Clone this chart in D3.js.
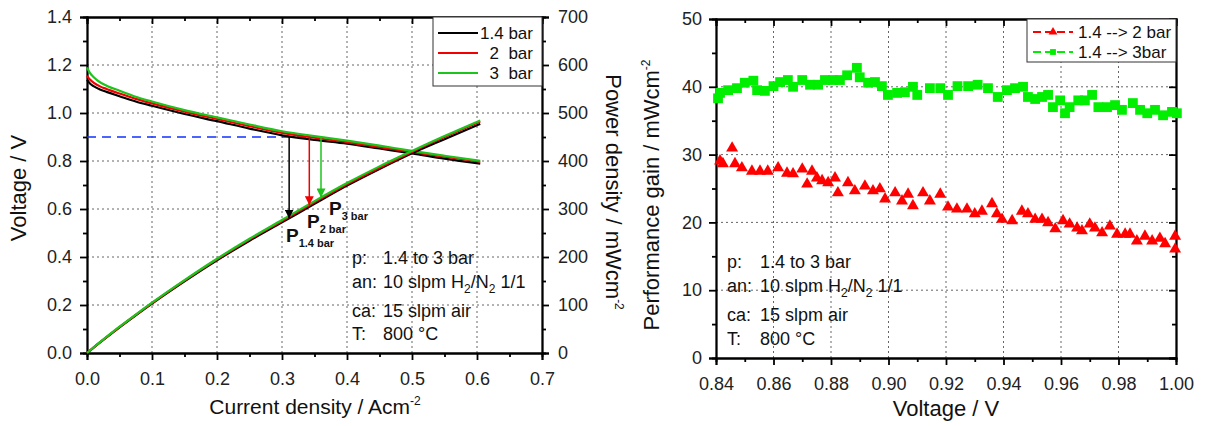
<!DOCTYPE html>
<html><head><meta charset="utf-8">
<script src="https://cdn.jsdelivr.net/npm/d3@7"></script>
<style>
body{margin:0;background:#fff;}
svg{font-family:"Liberation Sans",Arial,sans-serif;}
</style></head>
<body>
<svg id="c" width="1205" height="426"></svg>
<script>
// ---------- Left chart data ----------
const current = [0, 0.005, 0.01, 0.02, 0.03, 0.05, 0.075, 0.1, 0.15, 0.2, 0.25, 0.3, 0.35, 0.4, 0.45, 0.5, 0.55, 0.605];
const volt14 = [1.138, 1.122, 1.112, 1.098, 1.088, 1.070, 1.048, 1.030, 0.996, 0.966, 0.935, 0.907, 0.888, 0.872, 0.852, 0.832, 0.810, 0.789];
const volt2  = [1.155, 1.138, 1.127, 1.111, 1.100, 1.081, 1.059, 1.040, 1.006, 0.975, 0.945, 0.917, 0.897, 0.879, 0.858, 0.838, 0.818, 0.797];
const volt3  = [1.190, 1.165, 1.150, 1.128, 1.114, 1.093, 1.068, 1.048, 1.012, 0.982, 0.952, 0.924, 0.904, 0.885, 0.864, 0.842, 0.822, 0.801];
const power14 = [0, 5.6, 11.1, 22.0, 32.6, 53.5, 78.6, 103.0, 149.4, 193.2, 233.8, 272.1, 310.8, 348.8, 383.4, 416.0, 445.5, 477.3];
const power2  = [0, 5.7, 11.3, 22.2, 33.0, 54.1, 79.4, 104.0, 150.9, 195.0, 236.3, 275.1, 314.0, 351.6, 386.1, 419.0, 449.9, 482.2];
const power3  = [0, 5.8, 11.5, 22.6, 33.4, 54.7, 80.1, 104.8, 151.8, 196.4, 238.0, 277.2, 316.4, 354.0, 388.8, 421.0, 452.1, 484.6];
const seriesNames = ["1.4 bar", "2  bar", "3  bar"];
const refVoltage = 0.9;
const arrowCurrent = [0.311, 0.342, 0.36];
const arrowPower = [280, 308, 324];
const arrowSubs = ["1.4 bar", "2 bar", "3 bar"];
const leftXTicks = [0, 0.1, 0.2, 0.3, 0.4, 0.5, 0.6, 0.7];
const leftYTicks = [0, 0.2, 0.4, 0.6, 0.8, 1.0, 1.2, 1.4];
const powerTicks = [0, 100, 200, 300, 400, 500, 600, 700];

// ---------- Right chart data ----------
const gain2 = [[0.8414,29.2],[0.8424,28.8],[0.8456,31.1],[0.8466,28.8],[0.849,28.2],[0.8525,27.7],[0.8553,27.7],[0.858,27.7],[0.8616,28.2],[0.8647,27.4],[0.8668,27.3],[0.870,28],[0.8717,25.8],[0.8734,27.7],[0.8751,26.7],[0.8769,26.3],[0.879,26],[0.8814,26.7],[0.8824,24.5],[0.8859,26],[0.8883,24.8],[0.8918,25.5],[0.8946,24.8],[0.897,25.1],[0.8988,23.6],[0.9023,24.5],[0.9047,23.3],[0.9068,24.3],[0.9085,22.6],[0.912,24.5],[0.9144,23.3],[0.918,24.3],[0.9207,22.4],[0.9238,22.1],[0.9273,22.1],[0.930,21.4],[0.9325,21.8],[0.936,22.9],[0.9377,21.4],[0.9395,20.6],[0.943,20.4],[0.9464,21.8],[0.9485,21.4],[0.951,20.6],[0.9534,20.6],[0.9555,20.1],[0.958,19.2],[0.9607,20.4],[0.963,19.9],[0.9656,19.3],[0.9673,18.9],[0.970,19.9],[0.9718,19.3],[0.9743,18.6],[0.977,19.6],[0.9795,18.4],[0.9823,18.4],[0.984,18.4],[0.9864,17.4],[0.9892,18.1],[0.9917,17.4],[0.9944,17.8],[0.9962,17],[0.9997,18.1],[0.9997,16.2]];
const gain3 = [[0.8407,38.3],[0.8414,39.1],[0.8442,39.5],[0.8473,39.8],[0.850,40.6],[0.853,40.9],[0.8543,39.5],[0.857,39.4],[0.860,40.1],[0.8623,40.7],[0.865,41],[0.8668,40],[0.870,41],[0.8727,40.3],[0.8755,40.3],[0.8779,41],[0.8807,41],[0.8831,41],[0.8856,41.7],[0.889,42.8],[0.890,41.4],[0.8929,40.6],[0.8953,40.7],[0.8977,40.1],[0.8998,38.8],[0.903,39.1],[0.9057,39.2],[0.9085,40],[0.910,38.8],[0.9144,39.8],[0.918,39.8],[0.9207,38.8],[0.924,40.1],[0.9277,40.1],[0.931,40.3],[0.9346,39.8],[0.938,38.5],[0.9412,39.5],[0.944,39.8],[0.9468,40],[0.9485,38.5],[0.951,38.2],[0.9534,38.5],[0.9555,38.8],[0.9572,37],[0.9597,38],[0.9614,36.1],[0.963,37],[0.966,38],[0.9683,38],[0.9708,38.8],[0.973,37],[0.976,37],[0.9788,37.3],[0.9812,36.6],[0.985,37.6],[0.9875,36.6],[0.990,36.1],[0.9927,36.6],[0.9955,35.8],[0.9986,36.3],[1.0003,36.1]];
const gainNames = ["1.4 --> 2 bar", "1.4 --> 3bar"];
const rightXTicks = [0.84, 0.86, 0.88, 0.90, 0.92, 0.94, 0.96, 0.98, 1.00];
const rightYTicks = [0, 10, 20, 30, 40, 50];

const colors = ["#000000", "#f00000", "#1cc41c"];
const gainColors = ["#ff0000", "#00ee00"];

const svg = d3.select("#c");

// ---------- Left scales ----------
const xL = d3.scaleLinear([0, 0.7], [87, 542]);
const yL = d3.scaleLinear([0, 1.4], [353, 17]);
const yP = d3.scaleLinear([0, 700], [353, 17]);

// ---------- Right scales ----------
const xR = d3.scaleLinear([0.84, 1.0], [716, 1176]);
const yR = d3.scaleLinear([0, 50], [358, 19]);

const TICK_FS = 18, TITLE_FS = 22, TEXT_FS = 18;

function styleAxis(g, fs) {
  g.selectAll(".domain").attr("stroke", "#000").attr("stroke-width", 1.8);
  g.selectAll(".tick line").attr("stroke", "#000").attr("stroke-width", 1.8);
  g.selectAll(".tick text").attr("fill", "#222").attr("font-size", fs || 16);
  g.attr("font-family", null);
}
function minorVals(a, b, step) {
  const out = []; const n = Math.round((b - a) / step);
  for (let i = 0; i <= n; i++) out.push(+(a + i * step).toFixed(6));
  return out;
}
const dash = "2,3";

// ---------- Left gridlines ----------
const gL = svg.append("g");
gL.selectAll("line.hg").data(leftYTicks.slice(1, -1)).join("line")
  .attr("x1", xL(0)).attr("x2", xL(0.7)).attr("y1", d => yL(d)).attr("y2", d => yL(d))
  .attr("stroke", "#666").attr("stroke-width", 1).attr("stroke-dasharray", dash);
gL.selectAll("line.vg").data(leftXTicks.slice(1, -1)).join("line")
  .attr("y1", yL(0)).attr("y2", yL(1.4)).attr("x1", d => xL(d)).attr("x2", d => xL(d))
  .attr("stroke", "#666").attr("stroke-width", 1).attr("stroke-dasharray", dash);

// ---------- Left axes ----------
const lx = svg.append("g").attr("transform", `translate(0,${yL(0)})`)
  .call(d3.axisBottom(xL).tickValues(leftXTicks).tickFormat(d3.format(".1f")).tickSize(7).tickPadding(12));
styleAxis(lx, TICK_FS);
styleAxis(svg.append("g").attr("transform", `translate(0,${yL(0)})`)
  .call(d3.axisBottom(xL).tickValues(minorVals(0.05, 0.65, 0.1)).tickFormat("").tickSize(4)));
styleAxis(svg.append("g").attr("transform", `translate(0,${yL(1.4)})`)
  .call(d3.axisBottom(xL).tickValues(leftXTicks).tickFormat("").tickSize(7)));
styleAxis(svg.append("g").attr("transform", `translate(0,${yL(1.4)})`)
  .call(d3.axisBottom(xL).tickValues(minorVals(0.05, 0.65, 0.1)).tickFormat("").tickSize(4)));
const ly = svg.append("g").attr("transform", `translate(${xL(0)},0)`)
  .call(d3.axisLeft(yL).tickValues(leftYTicks).tickFormat(d3.format(".1f")).tickSize(7).tickPadding(8));
styleAxis(ly, TICK_FS);
styleAxis(svg.append("g").attr("transform", `translate(${xL(0)},0)`)
  .call(d3.axisLeft(yL).tickValues(minorVals(0.1, 1.3, 0.2)).tickFormat("").tickSize(4)));
const ry = svg.append("g").attr("transform", `translate(${xL(0.7)},0)`)
  .call(d3.axisRight(yP).tickValues(powerTicks).tickSize(7).tickPadding(9));
styleAxis(ry, TICK_FS);
styleAxis(svg.append("g").attr("transform", `translate(${xL(0.7)},0)`)
  .call(d3.axisRight(yP).tickValues(minorVals(50, 650, 100)).tickFormat("").tickSize(4)));

// ---------- Reference dashed line ----------
svg.append("line").attr("x1", xL(0)).attr("x2", xL(arrowCurrent[2]))
  .attr("y1", yL(refVoltage)).attr("y2", yL(refVoltage))
  .attr("stroke", "#1030ff").attr("stroke-width", 1.6).attr("stroke-dasharray", "9,6");

// ---------- Curves ----------
const vSeries = [volt14, volt2, volt3];
const pSeries = [power14, power2, power3];
const lineV = d3.line().x((d, i) => xL(current[i])).y(d => yL(d)).curve(d3.curveMonotoneX);
const lineP = d3.line().x((d, i) => xL(current[i])).y(d => yP(d)).curve(d3.curveMonotoneX);
vSeries.forEach((s, k) => {
  svg.append("path").attr("d", lineV(s)).attr("fill", "none").attr("stroke", colors[k]).attr("stroke-width", 2.2);
});
pSeries.forEach((s, k) => {
  svg.append("path").attr("d", lineP(s)).attr("fill", "none").attr("stroke", colors[k]).attr("stroke-width", 2.2);
});

// ---------- Arrows ----------
const defs = svg.append("defs");
colors.forEach((c, k) => {
  defs.append("marker").attr("id", "ah" + k).attr("viewBox", "0 0 10 10").attr("refX", 10).attr("refY", 5)
    .attr("markerWidth", 9).attr("markerHeight", 9).attr("markerUnits", "userSpaceOnUse").attr("orient", "auto")
    .append("path").attr("d", "M0,0 L10,5 L0,10 Z").attr("fill", c);
});
arrowCurrent.forEach((a, k) => {
  svg.append("line").attr("x1", xL(a)).attr("x2", xL(a))
    .attr("y1", yL(refVoltage)).attr("y2", yP(arrowPower[k]))
    .attr("stroke", colors[k]).attr("stroke-width", 1.5).attr("marker-end", `url(#ah${k})`);
});

// P labels
const pLab = [[286, 242], [307, 228], [329, 215]];
arrowSubs.forEach((s, k) => {
  const t = svg.append("text").attr("x", pLab[k][0]).attr("y", pLab[k][1])
    .attr("font-size", 19).attr("font-weight", "bold").attr("fill", "#111");
  t.append("tspan").text("P");
  t.append("tspan").attr("dy", 5).attr("font-size", 11).text(s);
});

// ---------- Left legend ----------
const lg = svg.append("g");
lg.append("rect").attr("x", 433).attr("y", 17).attr("width", 109).attr("height", 69)
  .attr("fill", "#fff").attr("stroke", "#333").attr("stroke-width", 1);
seriesNames.forEach((n, k) => {
  const yy = 33 + k * 20;
  lg.append("line").attr("x1", 438).attr("x2", 478).attr("y1", yy).attr("y2", yy)
    .attr("stroke", colors[k]).attr("stroke-width", 2);
  lg.append("text").attr("x", 533).attr("y", yy + 6).attr("text-anchor", "end")
    .attr("font-size", 17).attr("fill", "#111").style("white-space", "pre").text(n);
});

// ---------- Condition text blocks ----------
function condBlock(x0, x1, ys) {
  const g = svg.append("g").attr("font-size", TEXT_FS).attr("fill", "#111");
  const labs = ["p:", "an:", "ca:", "T:"];
  labs.forEach((l, i) => g.append("text").attr("x", x0).attr("y", ys[i]).text(l));
  g.append("text").attr("x", x1).attr("y", ys[0]).text("1.4 to 3 bar");
  const t = g.append("text").attr("x", x1).attr("y", ys[1]);
  t.append("tspan").text("10 slpm H");
  t.append("tspan").attr("font-size", 12).attr("dy", 5).text("2");
  t.append("tspan").attr("dy", -5).text("/N");
  t.append("tspan").attr("font-size", 12).attr("dy", 5).text("2");
  t.append("tspan").attr("dy", -5).text(" 1/1");
  g.append("text").attr("x", x1).attr("y", ys[2]).text("15 slpm air");
  g.append("text").attr("x", x1).attr("y", ys[3]).text("800 °C");
}
condBlock(352, 383, [264, 288, 317, 340]);

// ---------- Left titles ----------
svg.append("text").attr("transform", "translate(26,188) rotate(-90)").attr("text-anchor", "middle")
  .attr("font-size", TITLE_FS).attr("fill", "#111").text("Voltage / V");
const tx = svg.append("text").attr("x", 315).attr("y", 414).attr("text-anchor", "middle")
  .attr("font-size", TITLE_FS - 1).attr("fill", "#111");
tx.append("tspan").text("Current density / Acm");
tx.append("tspan").attr("dy", -9).attr("font-size", 12).text("-2");
const tp = svg.append("text").attr("transform", "translate(606,192) rotate(90)").attr("text-anchor", "middle")
  .attr("font-size", TITLE_FS).attr("fill", "#111");
tp.append("tspan").text("Power density / mWcm");
tp.append("tspan").attr("dy", -9).attr("font-size", 12).text("-2");

// ---------- Right gridlines ----------
const gR = svg.append("g");
gR.selectAll("line.hg").data(rightYTicks.slice(1, -1)).join("line")
  .attr("x1", xR(0.84)).attr("x2", xR(1.0)).attr("y1", d => yR(d)).attr("y2", d => yR(d))
  .attr("stroke", "#666").attr("stroke-width", 1).attr("stroke-dasharray", dash);
gR.selectAll("line.vg").data(rightXTicks.slice(1, -1)).join("line")
  .attr("y1", yR(0)).attr("y2", yR(50)).attr("x1", d => xR(d)).attr("x2", d => xR(d))
  .attr("stroke", "#666").attr("stroke-width", 1).attr("stroke-dasharray", dash);

// ---------- Right axes ----------
const rxMinor = minorVals(0.85, 0.99, 0.02);
const ryMinor = minorVals(5, 45, 10);
const bx = svg.append("g").attr("transform", `translate(0,${yR(0)})`)
  .call(d3.axisBottom(xR).tickValues(rightXTicks).tickFormat(d3.format(".2f")).tickSize(7).tickPadding(12));
styleAxis(bx, TICK_FS);
styleAxis(svg.append("g").attr("transform", `translate(0,${yR(0)})`)
  .call(d3.axisBottom(xR).tickValues(rxMinor).tickFormat("").tickSize(4)));
styleAxis(svg.append("g").attr("transform", `translate(0,${yR(50)})`)
  .call(d3.axisBottom(xR).tickValues(rightXTicks).tickFormat("").tickSize(7)));
styleAxis(svg.append("g").attr("transform", `translate(0,${yR(50)})`)
  .call(d3.axisBottom(xR).tickValues(rxMinor).tickFormat("").tickSize(4)));
const by = svg.append("g").attr("transform", `translate(${xR(0.84)},0)`)
  .call(d3.axisLeft(yR).tickValues(rightYTicks).tickSize(7).tickPadding(7));
styleAxis(by, TICK_FS);
styleAxis(svg.append("g").attr("transform", `translate(${xR(0.84)},0)`)
  .call(d3.axisLeft(yR).tickValues(ryMinor).tickFormat("").tickSize(4)));
styleAxis(svg.append("g").attr("transform", `translate(${xR(1.0)},0)`)
  .call(d3.axisLeft(yR).tickValues(rightYTicks).tickFormat("").tickSize(7)));
styleAxis(svg.append("g").attr("transform", `translate(${xR(1.0)},0)`)
  .call(d3.axisLeft(yR).tickValues(ryMinor).tickFormat("").tickSize(4)));

// ---------- Right markers ----------
const tri = d3.symbol().type(d3.symbolTriangle).size(62);
const sq = d3.symbol().type(d3.symbolSquare).size(96);
svg.append("g").selectAll("path").data(gain3).join("path")
  .attr("d", sq).attr("transform", d => `translate(${xR(d[0])},${yR(d[1])})`).attr("fill", gainColors[1]);
svg.append("g").selectAll("path").data(gain2).join("path")
  .attr("d", tri).attr("transform", d => `translate(${xR(d[0])},${yR(d[1]) + 1})`).attr("fill", gainColors[0]);

// ---------- Right legend ----------
const rl = svg.append("g");
rl.append("rect").attr("x", 1027).attr("y", 19).attr("width", 149).attr("height", 43)
  .attr("fill", "#fff").attr("stroke", "#333").attr("stroke-width", 1);
gainNames.forEach((n, k) => {
  const yy = 32 + k * 20;
  rl.append("line").attr("x1", 1033).attr("x2", 1073).attr("y1", yy).attr("y2", yy)
    .attr("stroke", gainColors[k]).attr("stroke-width", 2).attr("stroke-dasharray", "8,4");
  rl.append("path").attr("d", k === 0 ? d3.symbol().type(d3.symbolTriangle).size(34)() : d3.symbol().type(d3.symbolSquare).size(34)())
    .attr("transform", `translate(1053,${yy})`).attr("fill", gainColors[k]);
  rl.append("text").attr("x", 1078).attr("y", yy + 6).attr("font-size", 17).attr("fill", "#111").text(n);
});

condBlock(727, 760, [268, 292, 321, 345]);

// ---------- Right titles ----------
const tg = svg.append("text").attr("transform", "translate(659,195) rotate(-90)").attr("text-anchor", "middle")
  .attr("font-size", TITLE_FS).attr("fill", "#111");
tg.append("tspan").text("Performance gain / mWcm");
tg.append("tspan").attr("dy", -9).attr("font-size", 12).text("-2");
svg.append("text").attr("x", 946).attr("y", 416).attr("text-anchor", "middle")
  .attr("font-size", TITLE_FS).attr("fill", "#111").text("Voltage / V");
</script>
</body></html>
